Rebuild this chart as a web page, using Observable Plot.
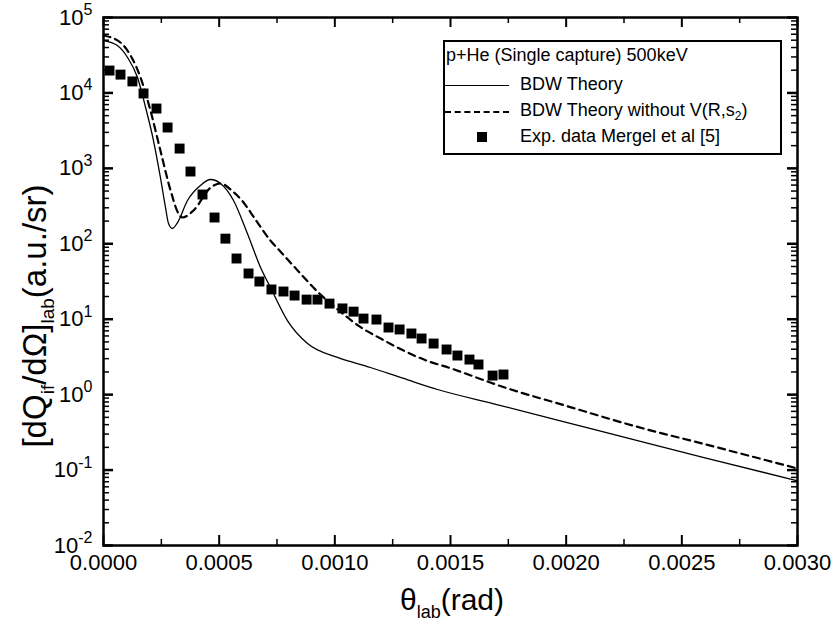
<!DOCTYPE html>
<html>
<head>
<meta charset="utf-8">
<script src="https://cdn.jsdelivr.net/npm/d3@7"></script>
<script src="https://cdn.jsdelivr.net/npm/@observablehq/plot@0.6"></script>
<style>
  html, body { margin: 0; padding: 0; background: #fff; }
  #wrap { position: relative; width: 839px; height: 629px; font-family: "Liberation Sans", Arial, sans-serif; color: #000; }
  #legend { position: absolute; left: 443px; top: 40px; width: 339px; height: 115px; border: 2px solid #000; box-sizing: border-box; background: #fff; font-size: 18px; }
  #legend .row { position: absolute; left: 0; white-space: nowrap; line-height: 20px; }
  #legend .txt { position: absolute; left: 75px; white-space: nowrap; }
  #legend .ls { position: absolute; left: 0px; width: 64px; height: 0; }
  #legend sub { font-size: 12px; vertical-align: -4px; line-height: 0; }
</style>
</head>
<body>
<div id="wrap"></div>
<script>
// ---- data ----
const expTheta = [0.000026, 0.0000735, 0.000125, 0.000173, 0.000229, 0.000277, 0.000329, 0.000376, 0.000428, 0.00048, 0.000527, 0.000575, 0.000627, 0.000674, 0.000726, 0.000778, 0.000826, 0.000878, 0.000925, 0.000977, 0.001033, 0.001081, 0.001124, 0.00118, 0.001232, 0.00128, 0.001331, 0.001375, 0.001427, 0.001483, 0.00153, 0.001582, 0.001621, 0.001682, 0.001729];
const expSigma = [19800, 17500, 14200, 9830, 6210, 3480, 1830, 908, 450, 223, 117, 63.8, 40.4, 31.6, 24.8, 23.3, 20.6, 18.2, 18.2, 16.1, 13.9, 12.6, 10.2, 9.9, 7.76, 7.31, 6.47, 5.55, 4.76, 3.97, 3.30, 2.92, 2.51, 1.79, 1.85];

const bdwTheta = [0, 0.00006, 0.000104, 0.000147, 0.000182, 0.000216, 0.000246, 0.000268, 0.000281, 0.000298, 0.00032, 0.000363, 0.000419, 0.000463, 0.000506, 0.000562, 0.000622, 0.000679, 0.000722, 0.000795, 0.000882, 0.001012, 0.001154, 0.001297, 0.001444, 0.0017, 0.002, 0.0023, 0.0026, 0.003];
const bdwSigma = [49500, 42500, 29500, 16000, 6410, 2340, 757, 303, 186, 160, 191, 375, 593, 712, 630, 375, 137, 48.5, 26.3, 9.6, 4.76, 3.11, 2.29, 1.64, 1.17, 0.74, 0.43, 0.25, 0.145, 0.072];

const noVTheta = [0, 0.0000735, 0.000117, 0.00016, 0.000203, 0.000246, 0.00029, 0.000324, 0.000341, 0.000389, 0.000463, 0.000506, 0.00056, 0.0006, 0.00064, 0.00068, 0.00072, 0.00076, 0.0008, 0.00084, 0.00093, 0.00102, 0.00111, 0.0012, 0.0013, 0.0014, 0.0015, 0.0016, 0.0017, 0.002, 0.0023, 0.0026, 0.003];
const noVSigma = [57700, 46600, 31300, 16000, 5850, 1725, 508, 252, 223, 276, 557, 630, 490, 370, 250, 165, 112, 82, 60, 44, 22.4, 12.9, 7.9, 5.5, 3.8, 2.8, 2.24, 1.74, 1.35, 0.71, 0.38, 0.22, 0.105];

const xMajor = [0, 0.0005, 0.001, 0.0015, 0.002, 0.0025, 0.003];
const xMinor = [0.00025, 0.00075, 0.00125, 0.00175, 0.00225, 0.00275];
const yMajor = [1e-2, 1e-1, 1e0, 1e1, 1e2, 1e3, 1e4, 1e5];
const yMinor = [];
for (let e = -2; e < 5; e++) for (let m = 2; m <= 9; m++) yMinor.push(m * Math.pow(10, e));

const legendTitle = "p+He (Single capture) 500keV";
const legendLabels = ["BDW Theory", "BDW Theory without V(R,s", "Exp. data Mergel et al [5]"];

// ---- layout ----
const W = 839, H = 629, ML = 103, MR = 42, MT = 17, MB = 84;
const plotW = W - ML - MR, plotH = H - MT - MB;

const expData = expTheta.map((t, i) => ({t, s: expSigma[i]}));
const bdwData = bdwTheta.map((t, i) => ({t, s: bdwSigma[i]}));
const noVData = noVTheta.map((t, i) => ({t, s: noVSigma[i]}));

const chart = Plot.plot({
  width: W, height: H,
  marginLeft: ML, marginRight: MR, marginTop: MT, marginBottom: MB,
  style: { fontFamily: "'Liberation Sans', Arial, sans-serif", fontSize: "22px", color: "#000", background: "#fff", overflow: "visible" },
  x: { domain: [0, 0.003], label: null },
  y: { type: "log", domain: [0.01, 1e5], label: null },
  marks: [
    Plot.axisX(xMajor, { tickSize: 0, tickPadding: 9, tickFormat: d3.format(".4f"), fontSize: 22, label: null }),
    Plot.axisY(yMajor, { tickSize: 0, tickPadding: 11, tickFormat: d => String(Math.round(Math.log10(d))), fontSize: 22, label: null }),
    // inward ticks
    Plot.tickX(xMajor, { x: d => d, insetTop: plotH - 10, strokeWidth: 2 }),
    Plot.tickX(xMajor, { x: d => d, insetBottom: plotH - 10, strokeWidth: 2 }),
    Plot.tickX(xMinor, { x: d => d, insetTop: plotH - 6, strokeWidth: 1.5 }),
    Plot.tickX(xMinor, { x: d => d, insetBottom: plotH - 6, strokeWidth: 1.5 }),
    Plot.tickY(yMajor, { y: d => d, insetRight: plotW - 10, strokeWidth: 2.5 }),
    Plot.tickY(yMajor, { y: d => d, insetLeft: plotW - 10, strokeWidth: 2.5 }),
    Plot.tickY(yMinor, { y: d => d, insetRight: plotW - 6, strokeWidth: 1.5 }),
    Plot.tickY(yMinor, { y: d => d, insetLeft: plotW - 6, strokeWidth: 1.5 }),
    // series
    Plot.line(bdwData, { x: "t", y: "s", stroke: "#000", strokeWidth: 1.3, curve: "monotone-x" }),
    Plot.line(noVData, { x: "t", y: "s", stroke: "#000", strokeWidth: 2.2, strokeDasharray: "7,5", curve: "monotone-x" }),
    Plot.dot(expData, { x: "t", y: "s", symbol: "square", r: 5.6, fill: "#000", stroke: null }),
    Plot.frame({ stroke: "#000", strokeWidth: 2.5 })
  ]
});

// superscript the y tick labels
d3.select(chart).selectAll('[aria-label="y-axis tick label"] text').each(function () {
  const e = this.textContent;
  const t = d3.select(this);
  t.text("10");
  t.append("tspan").attr("dy", "-0.6em").attr("font-size", "16px").text(e);
});

const svg = d3.select(chart);
// x axis title
const xt = svg.append("text").attr("x", 452).attr("y", 610).attr("text-anchor", "middle")
  .attr("font-size", 30).attr("fill", "#000");
xt.append("tspan").text("θ");
xt.append("tspan").attr("font-size", 18).attr("dy", 8).text("lab");
xt.append("tspan").attr("dy", -8).text("(rad)");

// y axis title
const yt = svg.append("text").attr("transform", "translate(46,316) rotate(-90)").attr("text-anchor", "middle")
  .attr("font-size", 33).attr("fill", "#000");
yt.append("tspan").text("[dQ");
yt.append("tspan").attr("font-size", 19).attr("dy", 8).text("if");
yt.append("tspan").attr("dy", -8).text("/dΩ]");
yt.append("tspan").attr("font-size", 19).attr("dy", 8).text("lab");
yt.append("tspan").attr("dy", -8).text("(a.u./sr)");

const wrap = document.getElementById("wrap");
wrap.appendChild(chart);

// legend
const lg = document.createElement("div");
lg.id = "legend";
lg.innerHTML = `
  <div class="row" style="left:1px; top:3px;">${legendTitle}</div>
  <div class="ls" style="top:43px; border-top:1.3px solid #000;"></div>
  <div class="txt" style="top:32px;">${legendLabels[0]}</div>
  <div class="ls" style="top:69px; border-top:2px dashed #000;"></div>
  <div class="txt" style="top:58px;">${legendLabels[1]}<sub>2</sub>)</div>
  <div style="position:absolute; left:32px; top:90px; width:10px; height:10px; background:#000;"></div>
  <div class="txt" style="top:84px;">${legendLabels[2]}</div>
`;
wrap.appendChild(lg);
</script>
</body>
</html>
